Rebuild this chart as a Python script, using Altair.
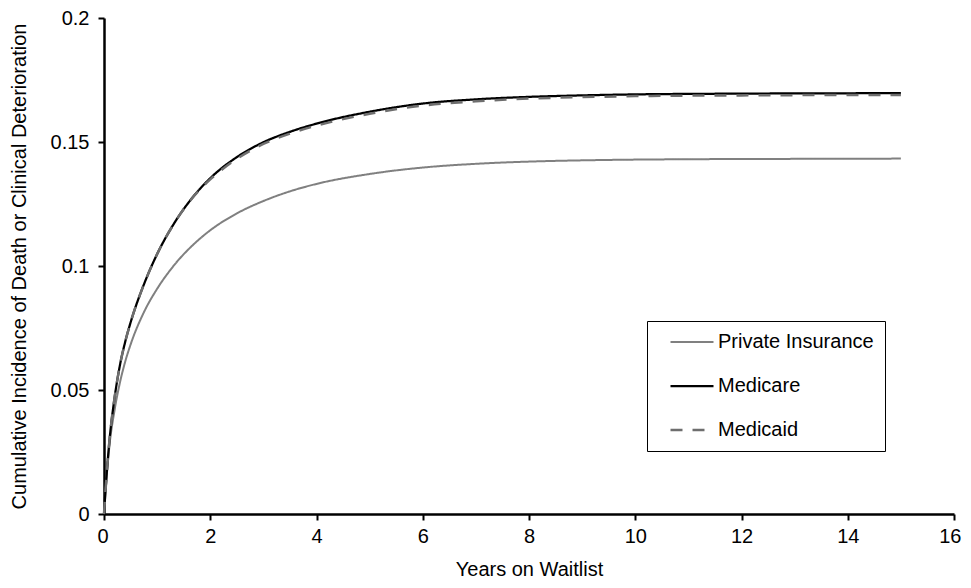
import altair as alt
import pandas as pd

years = [0, 0.05, 0.1, 0.2, 0.3, 0.4, 0.5, 0.75, 1, 1.3, 1.7, 2, 2.5, 3, 3.5, 4, 5, 6, 7, 8, 9, 10, 11, 12, 13, 14, 15]
private_ins = [0, 0.015, 0.027, 0.042, 0.053, 0.0615, 0.0683, 0.0813, 0.0908, 0.0998, 0.1090, 0.1144,
               0.1212, 0.1262, 0.1301, 0.1331, 0.1371, 0.1397, 0.1412, 0.1421, 0.1426, 0.1429, 0.14305,
               0.14315, 0.1432, 0.14327, 0.1433]
medicare = [0, 0.016, 0.029, 0.047, 0.060, 0.0695, 0.0772, 0.0925, 0.1048, 0.1165, 0.1285, 0.1354,
            0.1439, 0.1499, 0.1541, 0.1574, 0.1622, 0.1655, 0.1672, 0.1682, 0.1688, 0.1692, 0.1694,
            0.1695, 0.1696, 0.16965, 0.1697]
medicaid = [0, 0.016, 0.029, 0.047, 0.060, 0.0695, 0.0772, 0.0925, 0.1048, 0.1165, 0.1284, 0.1349,
            0.1432, 0.1492, 0.1534, 0.1566, 0.1614, 0.1647, 0.1664, 0.1675, 0.1681, 0.1685, 0.1687,
            0.1688, 0.1689, 0.1690, 0.1690]

series = ["Private Insurance", "Medicare", "Medicaid"]
colors = ["#808080", "#000000", "#6e6e6e"]
dashes = [[1, 0], [1, 0], [12, 10]]
widths = [2, 2.5, 3]

rows = []
for k, (name, vals) in enumerate(zip(series, [private_ins, medicare, medicaid])):
    for t, v in zip(years, vals):
        rows.append({"Years": t, "Value": v, "Series": name, "order": k})
df = pd.DataFrame(rows)

FONT = "Liberation Sans"

legend_opts = dict(title=None, orient="none", legendX=543, legendY=303,
                   strokeColor="black", fillColor="white", padding=11,
                   clipHeight=20, rowPadding=24, symbolType="stroke",
                   symbolSize=1849, symbolOffset=11, labelOffset=3,
                   symbolStrokeWidth=2.5, labelFontSize=20, labelFont=FONT,
                   labelColor="black")

chart = alt.Chart(df).mark_line(interpolate="monotone").encode(
    x=alt.X("Years:Q", scale=alt.Scale(domain=[0, 16], nice=False),
            axis=alt.Axis(title="Years on Waitlist", values=list(range(0, 17, 2)), grid=False,
                          labelFlush=True, labelFlushOffset=7,
                          domainColor="black", domainWidth=2.5, tickColor="black", tickWidth=2,
                          tickSize=6, labelFontSize=20, labelFont=FONT, labelColor="black",
                          labelPadding=6, titleFontSize=20, titleFont=FONT, titleFontWeight="normal",
                          titleColor="black", titleX=425, titleY=55, titleBaseline="middle",
                          titleAlign="center")),
    y=alt.Y("Value:Q", scale=alt.Scale(domain=[0, 0.2], nice=False),
            axis=alt.Axis(title="Cumulative Incidence of Death or Clinical Deterioration",
                          values=[0, 0.05, 0.1, 0.15, 0.2], format="~g", grid=False,
                          labelFlush=False,
                          domainColor="black", domainWidth=2.5, tickColor="black", tickWidth=2,
                          tickSize=6, labelFontSize=20, labelFont=FONT, labelColor="black",
                          labelPadding=9, titleFontSize=20, titleFont=FONT, titleFontWeight="normal",
                          titleColor="black", titleX=-85, titleY=248, titleAngle=270,
                          titleBaseline="middle", titleAlign="center")),
    color=alt.Color("Series:N", scale=alt.Scale(domain=series, range=colors),
                    legend=alt.Legend(**legend_opts)),
    strokeDash=alt.StrokeDash("Series:N", scale=alt.Scale(domain=series, range=dashes),
                              legend=alt.Legend(**legend_opts)),
    strokeWidth=alt.StrokeWidth("Series:N", scale=alt.Scale(domain=series, range=widths), legend=None),
    order="order:Q",
).properties(
    width=850, height=496,
    autosize=alt.AutoSizeParams(type="none"),
    padding={"left": 96, "top": 10, "right": 8, "bottom": 66},
).configure_view(stroke=None)

chart.save("out.html", embed_options={"renderer": "svg", "actions": False})
